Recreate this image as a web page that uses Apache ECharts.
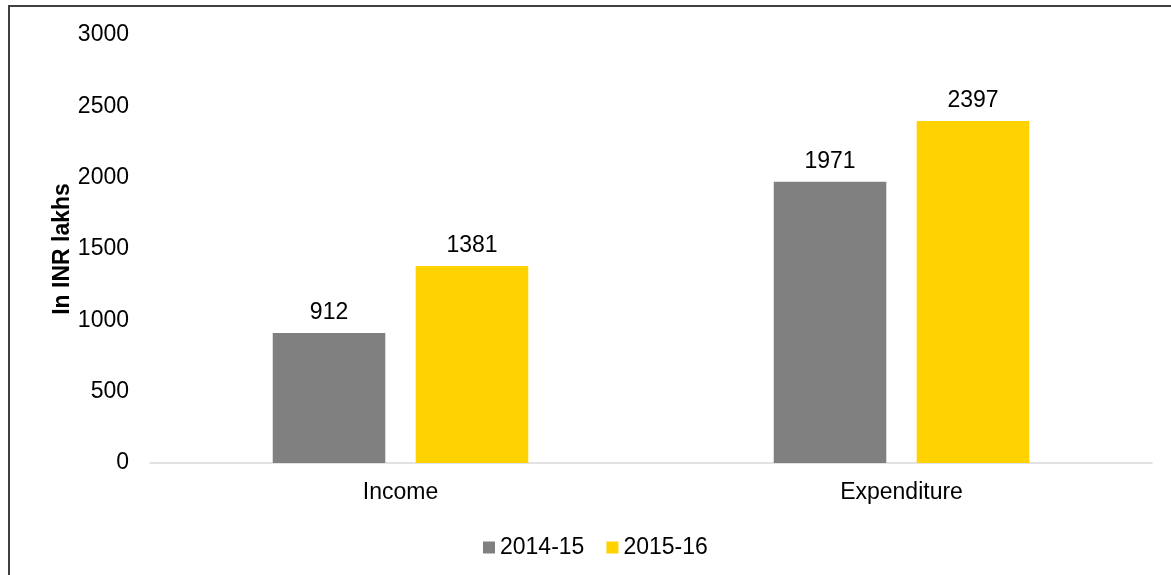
<!DOCTYPE html>
<html>
<head>
<meta charset="utf-8">
<script src="https://cdn.jsdelivr.net/npm/echarts@6/dist/echarts.min.js"></script>
<style>
    html, body { margin: 0; padding: 0; background: #fff; }
    #frame {
        position: absolute; left: 8px; top: 5px; width: 1163px; height: 570px;
        border-left: 2px solid #404040; border-top: 2px solid #404040;
        box-sizing: border-box;
    }
    #myChart { position: absolute; left: 0; top: 0; width: 1171px; height: 575px; }
</style>
</head>
<body>
<div id="frame"></div>
<div id="myChart"></div>
<script>
    // data
    const categories = ['Income', 'Expenditure']
    const seriesNames = ['2014-15', '2015-16']
    const values2014 = [912, 1971]
    const values2015 = [1381, 2397]
    const colors = ['#808080', '#FFD200']

    const font = 'Arial, "Liberation Sans", sans-serif'
    const fs = 23

    let myChart = echarts.init(document.getElementById('myChart'))
    myChart.setOption({
        animation: false,
        textStyle: { fontFamily: font },
        legend: {
            data: seriesNames,
            top: 531,
            left: 478,
            itemWidth: 12,
            itemHeight: 12,
            itemGap: 22,
            icon: 'rect',
            textStyle: { fontSize: fs, color: '#000', fontFamily: font }
        },
        grid: {
            left: 150,
            right: 19,
            top: 35,
            bottom: 112,
            containLabel: false
        },
        xAxis: {
            type: 'category',
            data: categories,
            axisTick: { show: false },
            axisLine: { lineStyle: { color: '#D9D9D9', width: 1.5 } },
            axisLabel: { fontSize: fs, color: '#000', margin: 18, fontFamily: font }
        },
        yAxis: {
            type: 'value',
            min: 0,
            max: 3000,
            interval: 500,
            name: 'In INR lakhs',
            nameLocation: 'middle',
            nameGap: 76,
            nameMoveOverlap: false,
            nameTextStyle: { fontSize: fs, fontWeight: 'bold', color: '#000', fontFamily: font },
            splitLine: { show: false },
            axisLine: { show: false },
            axisTick: { show: false },
            axisLabel: { fontSize: fs, color: '#000', margin: 21, fontFamily: font, formatter: v => String(v) }
        },
        series: [
            {
                name: seriesNames[0],
                type: 'bar',
                data: values2014,
                itemStyle: { color: colors[0] },
                barGap: '27%',
                barCategoryGap: '49%',
                label: { show: true, position: 'top', distance: 9, fontSize: fs, color: '#000', fontFamily: font }
            },
            {
                name: seriesNames[1],
                type: 'bar',
                data: values2015,
                itemStyle: { color: colors[1] },
                barGap: '27%',
                barCategoryGap: '49%',
                label: { show: true, position: 'top', distance: 9, fontSize: fs, color: '#000', fontFamily: font }
            }
        ]
    })
</script>
</body>
</html>
